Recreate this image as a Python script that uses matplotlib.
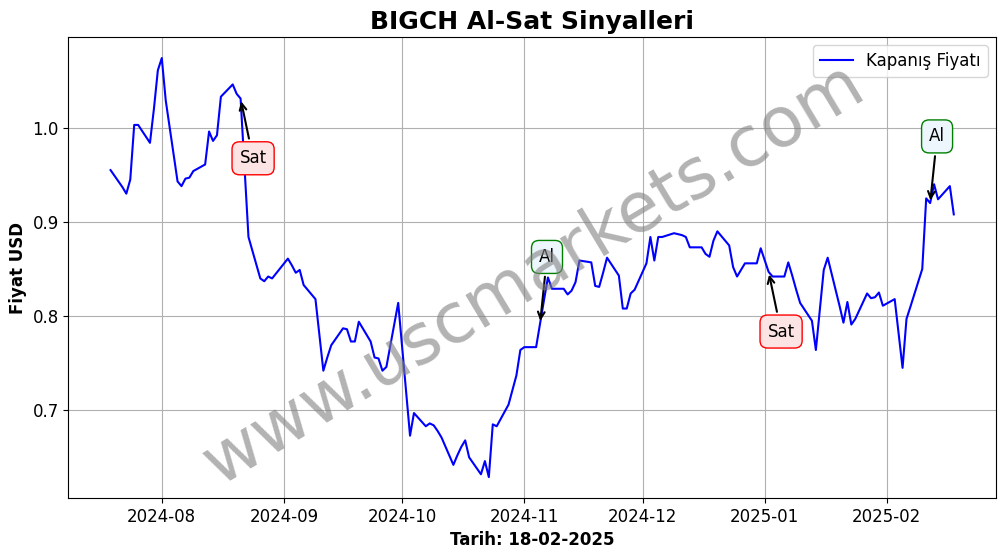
import pandas as pd
import matplotlib
matplotlib.use("Agg")
from matplotlib import pyplot as plt

# closing prices (USD), trading days
dates = pd.to_datetime([
    "2024-07-19", "2024-07-22", "2024-07-23", "2024-07-24", "2024-07-25", "2024-07-26",
    "2024-07-29", "2024-07-30", "2024-07-31", "2024-08-01", "2024-08-02",
    "2024-08-05", "2024-08-06", "2024-08-07", "2024-08-08", "2024-08-09",
    "2024-08-12", "2024-08-13", "2024-08-14", "2024-08-15", "2024-08-16",
    "2024-08-19", "2024-08-20", "2024-08-21", "2024-08-22", "2024-08-23",
    "2024-08-26", "2024-08-27", "2024-08-28", "2024-08-29",
    "2024-09-02", "2024-09-03", "2024-09-04", "2024-09-05", "2024-09-06",
    "2024-09-09", "2024-09-10", "2024-09-11", "2024-09-12", "2024-09-13",
    "2024-09-16", "2024-09-17", "2024-09-18", "2024-09-19", "2024-09-20",
    "2024-09-23", "2024-09-24", "2024-09-25", "2024-09-26", "2024-09-27",
    "2024-09-30", "2024-10-01", "2024-10-02", "2024-10-03", "2024-10-04",
    "2024-10-07", "2024-10-08", "2024-10-09", "2024-10-10", "2024-10-11",
    "2024-10-14", "2024-10-15", "2024-10-16", "2024-10-17", "2024-10-18",
    "2024-10-21", "2024-10-22", "2024-10-23", "2024-10-24", "2024-10-25",
    "2024-10-28", "2024-10-30", "2024-10-31", "2024-11-01",
    "2024-11-04", "2024-11-05", "2024-11-06", "2024-11-07", "2024-11-08",
    "2024-11-11", "2024-11-12", "2024-11-13", "2024-11-14", "2024-11-15",
    "2024-11-18", "2024-11-19", "2024-11-20", "2024-11-21", "2024-11-22",
    "2024-11-25", "2024-11-26", "2024-11-27", "2024-11-28", "2024-11-29",
    "2024-12-02", "2024-12-03", "2024-12-04", "2024-12-05", "2024-12-06",
    "2024-12-09", "2024-12-10", "2024-12-11", "2024-12-12", "2024-12-13",
    "2024-12-16", "2024-12-17", "2024-12-18", "2024-12-19", "2024-12-20",
    "2024-12-23", "2024-12-24", "2024-12-25", "2024-12-26", "2024-12-27",
    "2024-12-30", "2024-12-31", "2025-01-02", "2025-01-03",
    "2025-01-06", "2025-01-07", "2025-01-08", "2025-01-09", "2025-01-10",
    "2025-01-13", "2025-01-14", "2025-01-15", "2025-01-16", "2025-01-17",
    "2025-01-20", "2025-01-21", "2025-01-22", "2025-01-23", "2025-01-24",
    "2025-01-27", "2025-01-28", "2025-01-29", "2025-01-30", "2025-01-31",
    "2025-02-03", "2025-02-04", "2025-02-05", "2025-02-06", "2025-02-07",
    "2025-02-10", "2025-02-11", "2025-02-12", "2025-02-13", "2025-02-14",
    "2025-02-17", "2025-02-18",
])
prices = [
    0.955, 0.937, 0.930, 0.945, 1.003, 1.003,
    0.984, 1.020, 1.061, 1.074, 1.029,
    0.943, 0.938, 0.946, 0.947, 0.954,
    0.961, 0.996, 0.986, 0.992, 1.033,
    1.046, 1.036, 1.031, 0.958, 0.884,
    0.840, 0.837, 0.842, 0.840,
    0.861, 0.854, 0.846, 0.849, 0.833,
    0.818, 0.780, 0.742, 0.756, 0.769,
    0.787, 0.786, 0.773, 0.773, 0.794,
    0.773, 0.756, 0.755, 0.742, 0.746,
    0.814, 0.767, 0.720, 0.673, 0.697,
    0.683, 0.686, 0.684, 0.678, 0.671,
    0.642, 0.652, 0.661, 0.668, 0.650,
    0.632, 0.646, 0.629, 0.685, 0.683,
    0.706, 0.737, 0.764, 0.767,
    0.767, 0.792, 0.817, 0.841, 0.829,
    0.829, 0.823, 0.827, 0.836, 0.859,
    0.857, 0.832, 0.831, 0.846, 0.862,
    0.843, 0.808, 0.808, 0.824, 0.828,
    0.856, 0.884, 0.859, 0.884, 0.884,
    0.888, 0.887, 0.886, 0.884, 0.873,
    0.873, 0.866, 0.863, 0.880, 0.890,
    0.875, 0.852, 0.842, 0.849, 0.856,
    0.856, 0.872, 0.847, 0.842,
    0.842, 0.857, 0.843, 0.828, 0.814,
    0.795, 0.764, 0.806, 0.849, 0.862,
    0.811, 0.793, 0.815, 0.791, 0.797,
    0.824, 0.819, 0.820, 0.825, 0.811,
    0.818, 0.782, 0.745, 0.797, 0.810,
    0.850, 0.925, 0.920, 0.940, 0.924,
    0.938, 0.908,
]

buy_dates = pd.to_datetime(["2024-11-05", "2025-02-12"])
sell_dates = pd.to_datetime(["2024-08-21", "2025-01-02"])

series = pd.Series(prices, index=dates)

fig, ax = plt.subplots(figsize=(10.06, 5.54), dpi=100)
ax.plot(series.index, series.values, color="blue", linewidth=1.5, label="Kapanış Fiyatı")

for d in sell_dates:
    ax.annotate("Sat", xy=(d, series[d]), xytext=(9, -43), textcoords="offset points",
                ha="center", va="center", fontsize=12,
                bbox=dict(boxstyle="round,pad=0.45", fc="#fde4e4", ec="red"),
                arrowprops=dict(arrowstyle="->", color="black", lw=1.5))
for d in buy_dates:
    ax.annotate("Al", xy=(d, series[d]), xytext=(5, 48), textcoords="offset points",
                ha="center", va="center", fontsize=12,
                bbox=dict(boxstyle="round,pad=0.45", fc="#eef6fd", ec="green"),
                arrowprops=dict(arrowstyle="->", color="black", lw=1.5))

ax.set_title("BIGCH Al-Sat Sinyalleri", fontsize=18, fontweight="bold")
ax.set_xlabel("Tarih: 18-02-2025", fontsize=12, fontweight="bold")
ax.set_ylabel("Fiyat USD", fontsize=12, fontweight="bold")
ax.tick_params(labelsize=12)
ax.grid(True, color="#b0b0b0")
ax.legend(loc="upper right", fontsize=12)

fig.text(0.53, 0.505, "www.uscmarkets.com", fontsize=50, color="gray", alpha=0.6,
         rotation=31, ha="center", va="center")

plt.subplots_adjust(left=0.068, right=0.99, top=0.933, bottom=0.101)
plt.savefig("out.png")
